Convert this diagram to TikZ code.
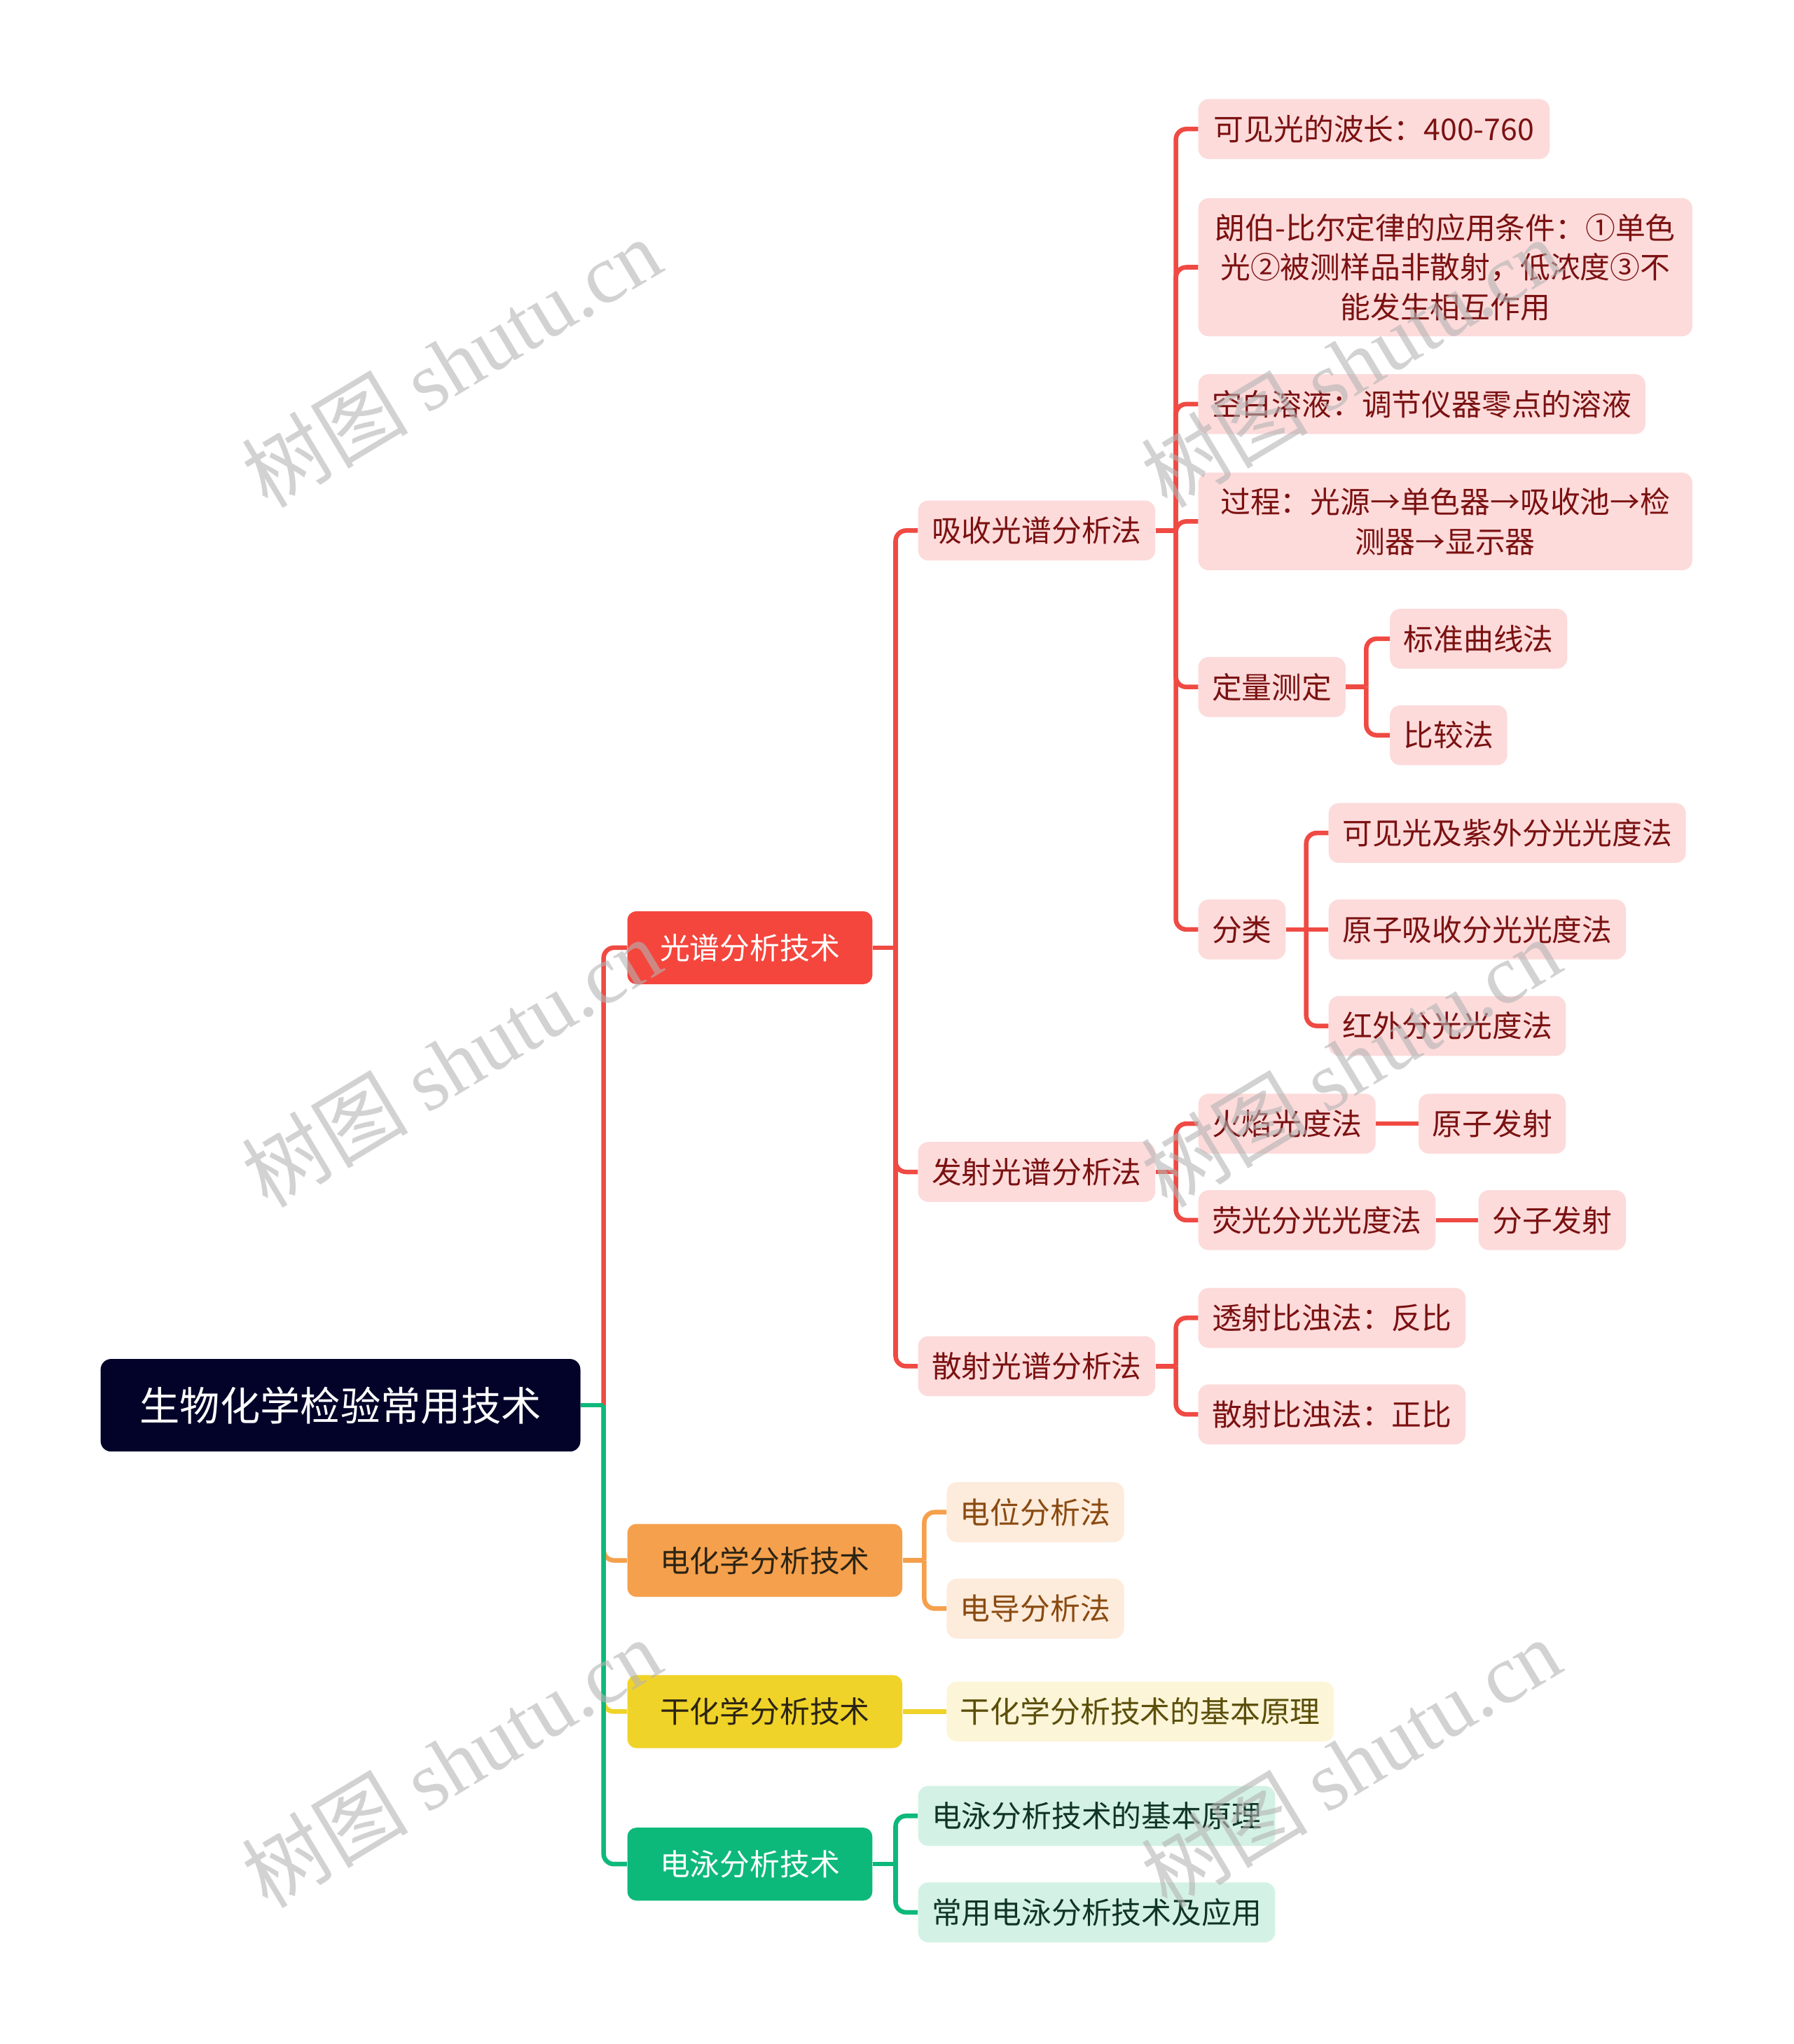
\documentclass[tikz,border=0pt]{standalone}
\usepackage{fontspec}
\setmainfont{Noto Sans CJK SC}
\newfontfamily\wmlatin{Liberation Serif}
\newfontfamily\wmcjk{Noto Sans CJK SC}
\definecolor{rootc}{HTML}{03032A}
\definecolor{redL}{HTML}{F4463D}
\definecolor{redln}{HTML}{EF4A43}
\definecolor{pinkbg}{HTML}{FDDBDB}
\definecolor{redtx}{HTML}{7B1111}
\definecolor{orgL}{HTML}{F5A04C}
\definecolor{orgbg}{HTML}{FDEBDB}
\definecolor{orgtx}{HTML}{8A4A10}
\definecolor{ylwL}{HTML}{F0D328}
\definecolor{ylwbg}{HTML}{FCF5D7}
\definecolor{ylwtx}{HTML}{5B4E0A}
\definecolor{darktx}{HTML}{2C2415}
\definecolor{grnL}{HTML}{0DB97A}
\definecolor{grnbg}{HTML}{D3F2E5}
\definecolor{grntx}{HTML}{103528}
\definecolor{wmc}{HTML}{B4B4B4}
\tikzset{
  box/.style={anchor=west, rounded corners=8pt, minimum height=46pt, inner xsep=10.5pt, inner ysep=0pt,
    align=center, font=\fontsize{23}{30.5}\selectfont},
  rootbox/.style={box, fill=rootc, text=white, minimum height=71pt, inner xsep=30pt, font=\fontsize{30.8}{36}\selectfont},
  lone/.style={box, minimum height=56pt, inner xsep=25pt, rounded corners=7pt},
  redone/.style={lone, fill=redL, text=white},
  orgone/.style={lone, fill=orgL, text=darktx},
  ylwone/.style={lone, fill=ylwL, text=darktx},
  grnone/.style={lone, fill=grnL, text=white},
  redbox/.style={box, fill=pinkbg, text=redtx},
  orgbox/.style={box, fill=orgbg, text=orgtx},
  ylwbox/.style={box, fill=ylwbg, text=ylwtx},
  grnbox/.style={box, fill=grnbg, text=grntx},
  conn/.style={line width=3.5pt},
  wm/.style={rotate=31, text=wmc, opacity=0.6, font=\fontsize{64}{66}\selectfont}
}
\newcommand\mmlink[4]{%
  \coordinate (jx) at (#4,0);
  \draw[conn,draw=#1] (#2.east) -- (#2.east -| jx);
  \draw[conn,draw=#1,rounded corners=8pt] (#2.east -| jx) |- (#3.west);
}
\newcommand\mmstraight[3]{%
  \draw[conn,draw=#1] (#2.east) -- (#3.west);
}
\begin{document}
\begin{tikzpicture}[x=1pt,y=-1pt]
\useasboundingbox[fill=white] (0,0) rectangle (1376,1568);

% root
\node[rootbox] (root) at (77,1078) {生物化学检验常用技术};

% level 1
\node[redone] (g1) at (481,727) {光谱分析技术};
\node[orgone] (g2) at (481,1197) {电化学分析技术};
\node[ylwone] (g3) at (481,1313) {干化学分析技术};
\node[grnone] (g4) at (481,1430) {电泳分析技术};

% level 2 under g1
\node[redbox] (a) at (704,407) {吸收光谱分析法};
\node[redbox] (b) at (704,899) {发射光谱分析法};
\node[redbox] (c) at (704,1048) {散射光谱分析法};

% under a
\node[redbox, inner xsep=12pt] (a1) at (919,99) {可见光的波长：400-760};
\node[redbox, minimum height=106pt, text width=358pt] (a2) at (919,205) {朗伯-比尔定律的应用条件：①单色\\光②被测样品非散射，低浓度③不\\能发生相互作用};
\node[redbox] (a3) at (919,310) {空白溶液：调节仪器零点的溶液};
\node[redbox, minimum height=75pt, text width=358pt] (a4) at (919,400) {过程：光源→单色器→吸收池→检\\测器→显示器};
\node[redbox] (a5) at (919,527) {定量测定};
\node[redbox] (a6) at (919,713) {分类};

\node[redbox] (a51) at (1066,490) {标准曲线法};
\node[redbox] (a52) at (1066,564) {比较法};

\node[redbox] (a61) at (1019,639) {可见光及紫外分光光度法};
\node[redbox] (a62) at (1019,713) {原子吸收分光光度法};
\node[redbox] (a63) at (1019,787) {红外分光光度法};

% under b
\node[redbox] (b1) at (919,862) {火焰光度法};
\node[redbox] (b11) at (1088,862) {原子发射};
\node[redbox] (b2) at (919,936) {荧光分光光度法};
\node[redbox] (b21) at (1134,936) {分子发射};

% under c
\node[redbox] (c1) at (919,1011) {透射比浊法：反比};
\node[redbox] (c2) at (919,1085) {散射比浊法：正比};

% under g2, g3, g4
\node[orgbox] (e1) at (726,1160) {电位分析法};
\node[orgbox] (e2) at (726,1234) {电导分析法};
\node[ylwbox] (d1) at (726,1313) {干化学分析技术的基本原理};
\node[grnbox] (f1) at (704,1393) {电泳分析技术的基本原理};
\node[grnbox] (f2) at (704,1467) {常用电泳分析技术及应用};

% connectors
\mmlink{redln}{root}{g1}{463}
\mmlink{orgL}{root}{g2}{463}
\mmlink{ylwL}{root}{g3}{463}
\mmlink{grnL}{root}{g4}{463}

\mmlink{redln}{g1}{a}{687}
\mmlink{redln}{g1}{b}{687}
\mmlink{redln}{g1}{c}{687}

\mmlink{redln}{a}{a1}{902}
\mmlink{redln}{a}{a2}{902}
\mmlink{redln}{a}{a3}{902}
\mmlink{redln}{a}{a4}{902}
\mmlink{redln}{a}{a5}{902}
\mmlink{redln}{a}{a6}{902}

\mmlink{redln}{a5}{a51}{1048}
\mmlink{redln}{a5}{a52}{1048}

\mmlink{redln}{a6}{a61}{1002}
\mmstraight{redln}{a6}{a62}
\mmlink{redln}{a6}{a63}{1002}

\mmlink{redln}{b}{b1}{902}
\mmlink{redln}{b}{b2}{902}
\mmstraight{redln}{b1}{b11}
\mmstraight{redln}{b2}{b21}

\mmlink{redln}{c}{c1}{902}
\mmlink{redln}{c}{c2}{902}

\mmlink{orgL}{g2}{e1}{709}
\mmlink{orgL}{g2}{e2}{709}
\mmstraight{ylwL}{g3}{d1}
\mmlink{grnL}{g4}{f1}{687}
\mmlink{grnL}{g4}{f2}{687}

% watermarks
\node[wm] (w1) at (346,278) {\wmcjk 树图 \wmlatin shutu.cn};
\node[wm] (w2) at (1036,278) {\wmcjk 树图 \wmlatin shutu.cn};
\node[wm] (w3) at (346,815) {\wmcjk 树图 \wmlatin shutu.cn};
\node[wm] (w4) at (1036,815) {\wmcjk 树图 \wmlatin shutu.cn};
\node[wm] (w5) at (346,1352) {\wmcjk 树图 \wmlatin shutu.cn};
\node[wm] (w6) at (1036,1352) {\wmcjk 树图 \wmlatin shutu.cn};
\end{tikzpicture}
\end{document}
